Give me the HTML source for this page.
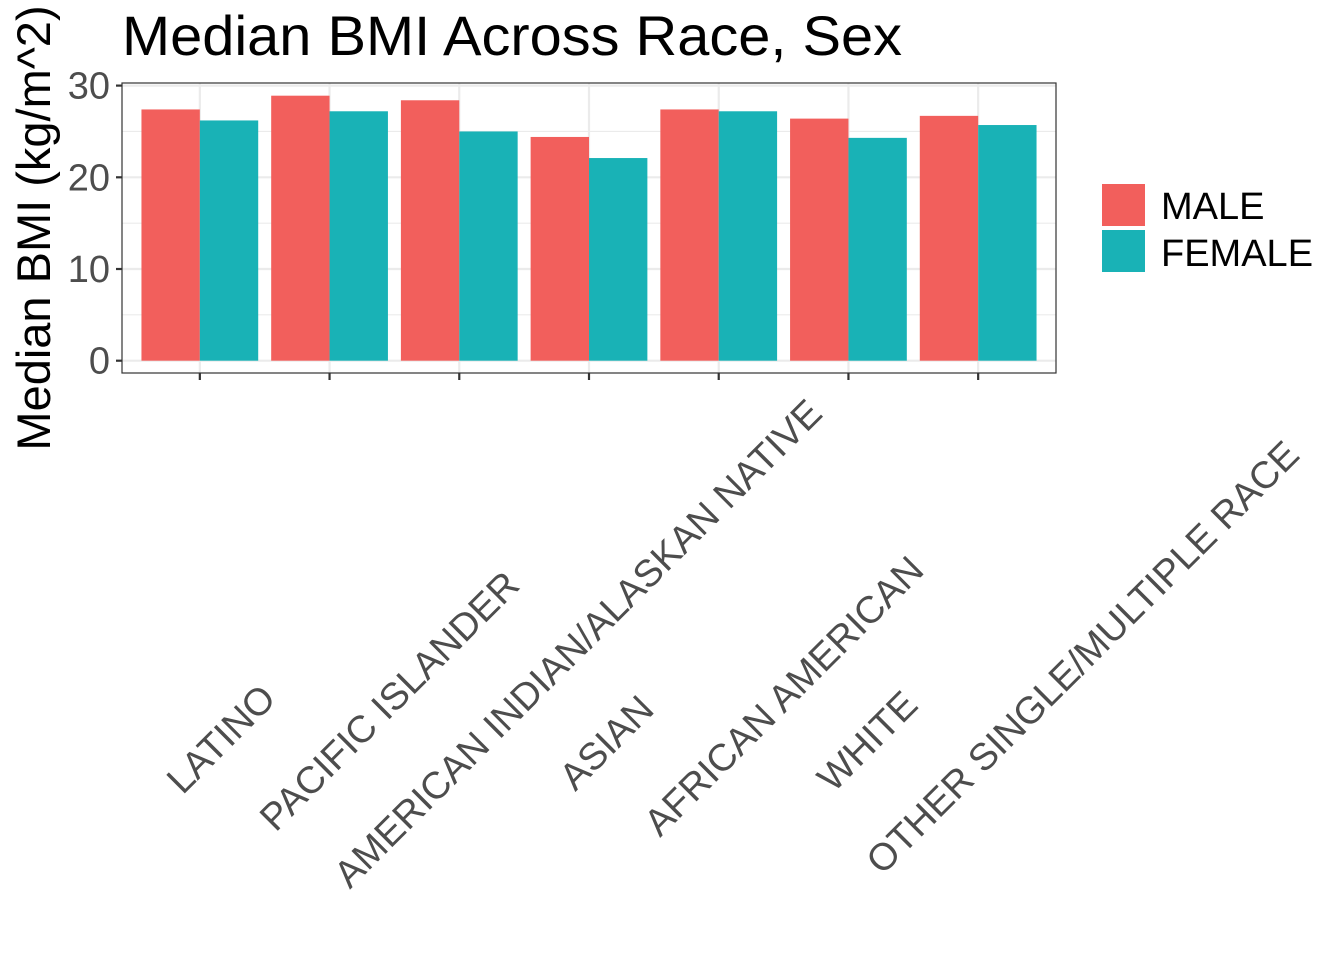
<!DOCTYPE html>
<html><head><meta charset="utf-8"><style>
html,body{margin:0;padding:0;background:#fff;}
svg{display:block;font-family:"Liberation Sans",Arial,sans-serif;}
</style></head><body>
<svg id="chart" width="1344" height="960" xmlns="http://www.w3.org/2000/svg">
<text x="122" y="55" font-size="56" fill="#000" textLength="780" lengthAdjust="spacingAndGlyphs">Median BMI Across Race, Sex</text>
<text transform="translate(50,228) rotate(-90)" text-anchor="middle" font-size="47" fill="#000">Median BMI (kg/m^2)</text>
<g id="grid"></g><g id="bars"></g><g id="axes"></g><g id="xlabels"></g>
<g>
<rect x="1102" y="184" width="43" height="42" fill="#F25F5C"/>
<rect x="1102" y="230" width="43" height="42" fill="#19B2B6"/>
<text x="1161" y="219" font-size="38">MALE</text>
<text x="1161" y="266" font-size="38">FEMALE</text>
</g>
</svg>
<script>
const categories=["LATINO","PACIFIC ISLANDER","AMERICAN INDIAN/ALASKAN NATIVE","ASIAN","AFRICAN AMERICAN","WHITE","OTHER SINGLE/MULTIPLE RACE"];
const maleValues=[27.4,28.9,28.4,24.4,27.4,26.4,26.7];
const femaleValues=[26.2,27.2,25.0,22.1,27.2,24.3,25.7];
const yTicks=[0,10,20,30];
const NS="http://www.w3.org/2000/svg";
const L=122,R=1056,T=83,B=373;
const y0=360.7,pxPer=9.17;
function ys(v){return y0-v*pxPer;}
const band=(R-L)/(categories.length+0.2);
function xs(i){return L+band*(0.6+i);}
function mk(tag,attrs,parent){const e=document.createElementNS(NS,tag);for(const k in attrs)e.setAttribute(k,attrs[k]);parent.appendChild(e);return e;}
const grid=document.getElementById('grid'),bars=document.getElementById('bars'),axes=document.getElementById('axes'),xl=document.getElementById('xlabels');
const panel=mk('rect',{x:L,y:T,width:R-L,height:B-T,fill:'#fff'},grid);


for(let v=-5;v<=30;v+=5){const y=ys(v);if(y<T||y>B)continue;const g=mk('line',{x1:L,x2:R,y1:y,y2:y,stroke:'#ebebeb','stroke-width':v%10===0?2.2:1.1},grid);

}
categories.forEach((c,i)=>{const g=mk('line',{x1:xs(i),x2:xs(i),y1:T,y2:B,stroke:'#ebebeb','stroke-width':2.2},grid);

});
const bw=band*0.45;
categories.forEach((c,i)=>{
const m=mk('rect',{x:xs(i)-bw,y:ys(maleValues[i]),width:bw,height:ys(0)-ys(maleValues[i]),fill:'#F25F5C'},bars);


const f=mk('rect',{x:xs(i),y:ys(femaleValues[i]),width:bw,height:ys(0)-ys(femaleValues[i]),fill:'#19B2B6'},bars);


});
const border=mk('rect',{x:L,y:T,width:R-L,height:B-T,fill:'none',stroke:'#333','stroke-width':1.2},axes);


yTicks.forEach(v=>{const y=ys(v);
const t=mk('line',{x1:L-6,x2:L,y1:y,y2:y,stroke:'#333','stroke-width':2.2},axes);


const lb=mk('text',{x:L-12,y:y+13,'text-anchor':'end','font-size':38,fill:'#4d4d4d'},axes);lb.textContent=v;

});
categories.forEach((c,i)=>{const x=xs(i);
const t=mk('line',{x1:x,x2:x,y1:B,y2:B+7,stroke:'#333','stroke-width':2.2},axes);


const lb=mk('text',{x:0,y:0,'text-anchor':'middle','font-size':38,fill:'#4d4d4d'},xl);lb.textContent=c;


const len=lb.getComputedTextLength();const w=(len+27)/1.414;
const cx=x+20+(w-110)*0.257, cy=740-(w-110)*0.252;
lb.setAttribute('transform',`translate(${cx},${cy}) rotate(-45) translate(0,13)`);
});
</script>
</body></html>
